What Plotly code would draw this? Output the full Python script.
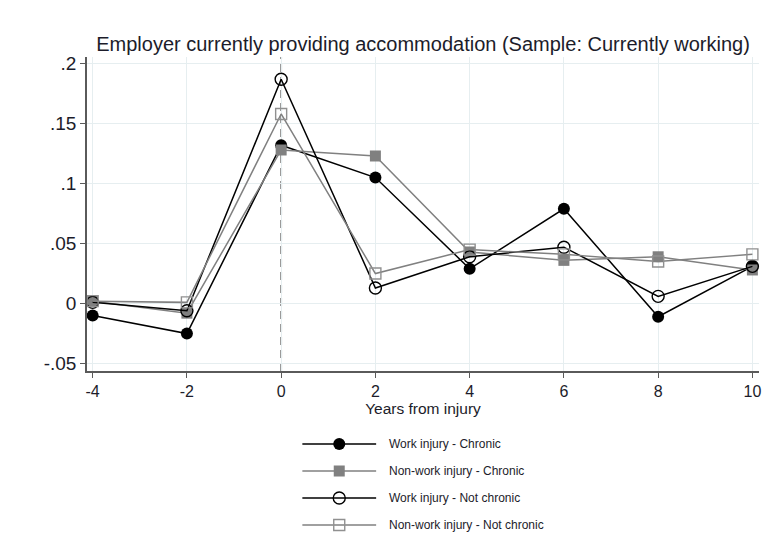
import plotly.graph_objects as go

# Event-study estimates by years from injury
years = [-4, -2, 0, 2, 4, 6, 8, 10]
work_chronic = [-0.010, -0.025, 0.132, 0.105, 0.029, 0.079, -0.011, 0.031]
nonwork_chronic = [0.002, -0.008, 0.128, 0.123, 0.043, 0.036, 0.039, 0.028]
work_notchronic = [0.001, -0.006, 0.187, 0.013, 0.039, 0.047, 0.006, 0.031]
nonwork_notchronic = [0.002, 0.001, 0.158, 0.025, 0.045, 0.041, 0.035, 0.041]

y_ticks = [-0.05, 0, 0.05, 0.1, 0.15, 0.2]
y_labels = ["-.05", "0", ".05", ".1", ".15", ".2"]
x_ticks = [-4, -2, 0, 2, 4, 6, 8, 10]
x_labels = ["-4", "-2", "0", "2", "4", "6", "8", "10"]

BLACK = "#000000"
GRAY = "#808080"
FONT = "Liberation Sans, Arial, sans-serif"
TXT = "#1c1c2a"

series = [
    ("Work injury - Chronic", work_chronic,
     dict(symbol="circle", size=12, color=BLACK, line=dict(width=0)), BLACK),
    ("Non-work injury - Chronic", nonwork_chronic,
     dict(symbol="square", size=11, color=GRAY, line=dict(width=0)), GRAY),
    ("Work injury - Not chronic", work_notchronic,
     dict(symbol="circle-open", size=12, color=BLACK, line=dict(width=1.4)), BLACK),
    ("Non-work injury - Not chronic", nonwork_notchronic,
     dict(symbol="square-open", size=11, color="#909090", line=dict(width=1.4)), GRAY),
]

fig = go.Figure()

for name, vals, marker, lc in series:
    fig.add_trace(go.Scatter(
        x=years, y=vals, mode="lines+markers", name=name,
        line=dict(color=lc, width=1.5), marker=marker,
        showlegend=False, xaxis="x", yaxis="y", cliponaxis=False,
    ))

# Key drawn below the plot in its own small pixel-scaled axes
key_rows = [4, 3, 2, 1]
for (name, vals, marker, lc), row in zip(series, key_rows):
    fig.add_shape(type="line", xref="x2", yref="y2", x0=303, x1=377, y0=row, y1=row,
                  line=dict(color=lc, width=1.6), layer="below")
    fig.add_trace(go.Scatter(
        x=[340], y=[row], mode="markers", marker=marker, showlegend=False,
        xaxis="x2", yaxis="y2", hoverinfo="skip",
    ))
    fig.add_annotation(x=388, y=row, xref="x2", yref="y2", text=name, showarrow=False,
                       xanchor="left", yanchor="middle",
                       font=dict(family=FONT, size=12, color=TXT))

# Dashed reference line at the injury year
fig.add_shape(type="line", xref="x", yref="y", x0=0, x1=0, y0=-0.0562, y1=0.2055,
              line=dict(color="#7a7a7a", width=1.8, dash="8px,5px"), layer="below")

grid = "#e6eef0"
fig.update_layout(
    width=767, height=554,
    margin=dict(l=87, r=6, t=57, b=10),
    paper_bgcolor="white", plot_bgcolor="white",
    font=dict(family=FONT, color=TXT),
    title=dict(text="Employer currently providing accommodation (Sample: Currently working)",
               x=0.5, xref="paper", y=1 - 44 / 554, yref="container",
               xanchor="center", yanchor="middle",
               font=dict(family=FONT, size=20, color=TXT)),
    xaxis=dict(domain=[0, 1], range=[-4.12, 10.14], tickvals=x_ticks, ticktext=x_labels,
               showgrid=True, gridcolor=grid, gridwidth=1.2, zeroline=False,
               showline=True, linecolor="#5a5a5a", linewidth=1.6,
               ticks="outside", ticklen=5, tickcolor="#5a5a5a", tickwidth=1.3,
               tickfont=dict(size=16, color=TXT), anchor="y",
               title=dict(text="Years from injury", font=dict(size=15.5, color=TXT), standoff=0)),
    yaxis=dict(domain=[(544 - 371) / 487, 1], range=[-0.0562, 0.2055],
               tickvals=y_ticks, ticktext=y_labels,
               showgrid=True, gridcolor=grid, gridwidth=1.2, zeroline=False,
               showline=True, linecolor="#5a5a5a", linewidth=1.6,
               ticks="outside", ticklen=5, tickcolor="#5a5a5a", tickwidth=1.3,
               tickfont=dict(size=19, color=TXT), anchor="x"),
    xaxis2=dict(domain=[(290 - 87) / 674, (600 - 87) / 674], range=[290, 600],
                visible=False, anchor="y2", fixedrange=True),
    yaxis2=dict(domain=[(544 - 540) / 487, (544 - 430) / 487], range=[0.444, 4.518],
                visible=False, anchor="x2", fixedrange=True),
)

fig.write_html("out.html")
